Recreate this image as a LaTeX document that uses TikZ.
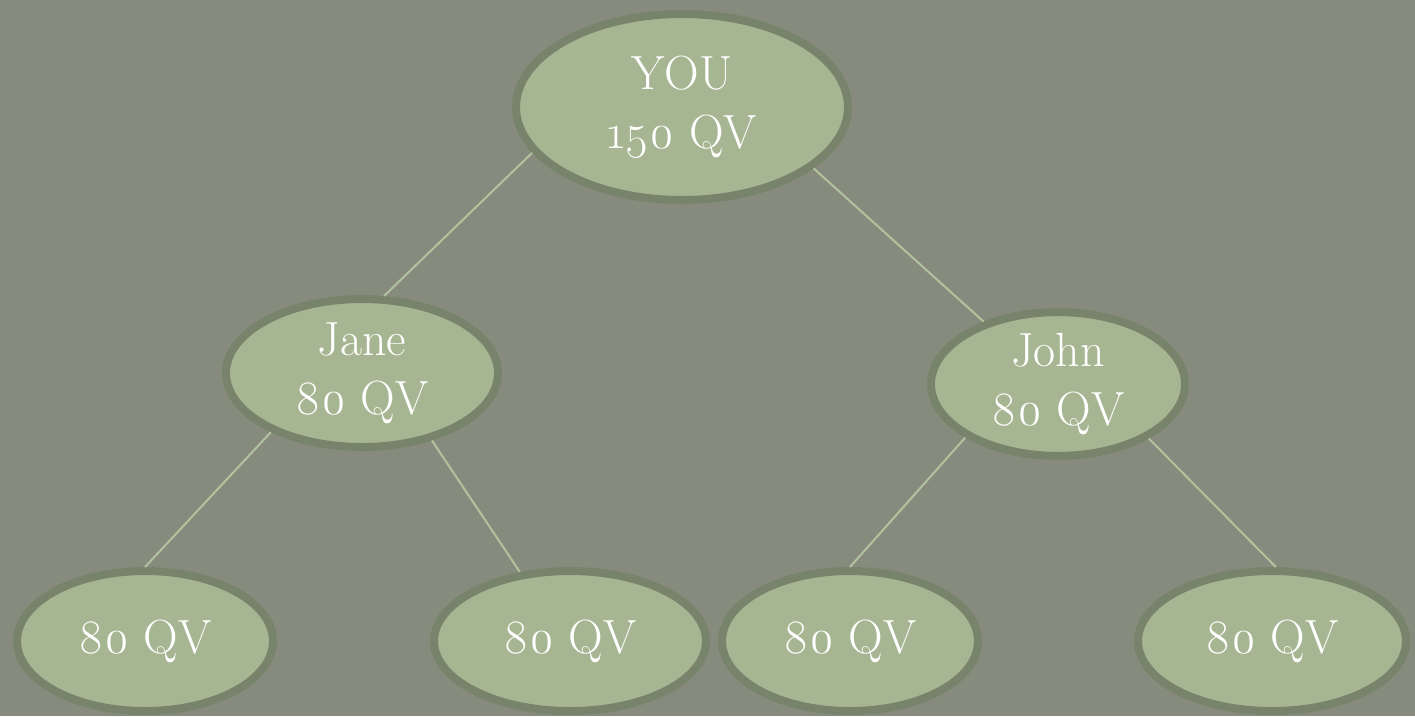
\documentclass[tikz,border=0pt]{standalone}
\usepackage{fontspec}
\setmainfont{Latin Modern Roman}[Numbers=OldStyle]
\usetikzlibrary{shapes.geometric}
\definecolor{bgc}{HTML}{878B7D}
\definecolor{fillc}{HTML}{A7B692}
\definecolor{edgec}{HTML}{77846B}
\definecolor{linkc}{HTML}{B2C29E}
\tikzset{
  member/.style={ellipse, draw=edgec, fill=fillc, line width=8pt, inner sep=0pt,
    text=white, align=center, font=\fontsize{48}{59}\selectfont},
  link/.style={draw=linkc, line width=2pt}
}
\newcommand{\qv}[1]{#1~QV}
\begin{document}
\begin{tikzpicture}[x=1pt,y=-1pt]
\fill[bgc] (0,0) rectangle (1415,716);
\useasboundingbox (0,0) rectangle (1415,716);
\node[member, minimum width=332pt, minimum height=186pt] (you) at (682,107) {YOU\\\qv{150}};
\node[member, minimum width=272pt, minimum height=148pt] (jane) at (362,373) {Jane\\\qv{80}};
\node[member, minimum width=254pt, minimum height=138pt] (john) at (1058,384) {John\\\qv{80}};
\node[member, minimum width=256pt, minimum height=140pt] (b1) at (145,641) {\qv{80}};
\node[member, minimum width=272pt, minimum height=140pt] (b2) at (570,641) {\qv{80}};
\node[member, minimum width=256pt, minimum height=140pt] (b3) at (850,641) {\qv{80}};
\node[member, minimum width=268pt, minimum height=140pt] (b4) at (1272,641) {\qv{80}};
\draw[link] (you.197.5) -- (jane.74);
\draw[link] (you.335.6) -- (john.140);
\draw[link] (jane.213.4) -- (b1.90);
\draw[link] (jane.316.7) -- (b2.126.3);
\draw[link] (john.210.5) -- (b3.90);
\draw[link] (john.329.5) -- (b4.87.5);
\end{tikzpicture}
\end{document}
